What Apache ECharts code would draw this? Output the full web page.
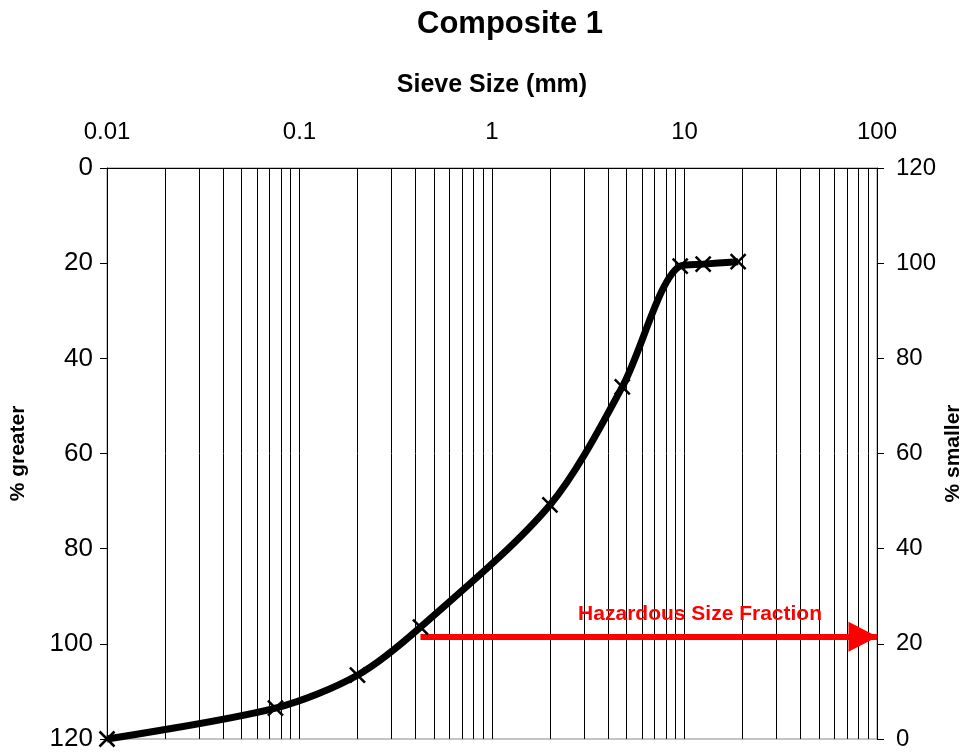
<!DOCTYPE html>
<html>
<head>
<meta charset="utf-8">
<script src="https://cdn.jsdelivr.net/npm/echarts@6/dist/echarts.min.js"></script>
<style>
html,body{margin:0;padding:0;background:#fff;}
#chart{width:962px;height:754px;}
</style>
</head>
<body>
<div id="chart"></div>
<script>
// Data
const sieveSize = [0.01, 0.075, 0.2, 0.425, 2, 4.75, 9.5, 12.5, 19];
const percentGreater = [120, 113.5, 106.6, 96.5, 70.8, 46.0, 20.6, 20.2, 19.7];
const minorGridSizes = [0.02,0.03,0.04,0.05,0.06,0.07,0.08,0.09,
                        0.2,0.3,0.4,0.5,0.6,0.7,0.8,0.9,
                        2,3,4,5,6,7,8,9,
                        20,30,40,50,60,70,80,90];
const hazardStartSize = 0.425;
const hazardEndSize = 100;
const hazardLevel = 98.5;
const hazardLabel = 'Hazardous Size Fraction';
const titleText = 'Composite 1';
const xName = 'Sieve Size (mm)';
const leftName = '% greater';
const rightName = '% smaller';

const FONT = "'Liberation Sans', Arial, sans-serif";
const chart = echarts.init(document.getElementById('chart'), null, {renderer: 'canvas'});

const option = {
  animation: false,
  backgroundColor: '#fff',
  title: {
    text: titleText,
    left: 412,
    top: 4,
    textStyle: {fontFamily: FONT, fontSize: 31, fontWeight: 'bold', color: '#000'}
  },
  grid: {
    left: 107, right: 85, top: 168, bottom: 15,
    containLabel: false,
    outerBoundsMode: 'none',
    show: true, borderColor: '#888', borderWidth: 1, backgroundColor: 'transparent'
  },
  xAxis: {
    type: 'log',
    logBase: 10,
    min: 0.01,
    max: 100,
    position: 'top',
    name: xName,
    nameLocation: 'middle',
    nameGap: 70,
    nameMoveOverlap: false,
    nameTextStyle: {fontFamily: FONT, fontSize: 25, fontWeight: 'bold', color: '#000'},
    axisLine: {show: true, lineStyle: {color: '#000', width: 1}},
    axisTick: {show: false},
    axisLabel: {
      fontFamily: FONT, fontSize: 24, color: '#000', margin: 24,
      formatter: function (v) { return String(+v.toPrecision(6)); }
    },
    splitLine: {show: true, lineStyle: {color: '#000', width: 1}}
  },
  yAxis: [
    {
      type: 'value',
      min: 0, max: 120, interval: 20,
      inverse: true,
      position: 'left',
      name: leftName,
      nameLocation: 'middle',
      nameGap: 78,
      nameMoveOverlap: false,
      nameTextStyle: {fontFamily: FONT, fontSize: 21, fontWeight: 'bold', color: '#000'},
      axisLine: {show: true, lineStyle: {color: '#000', width: 1}},
      axisTick: {show: true, length: 7, lineStyle: {color: '#000'}},
      axisLabel: {fontFamily: FONT, fontSize: 26, color: '#000', margin: 14},
      splitLine: {show: false}
    },
    {
      type: 'value',
      min: 0, max: 120, interval: 20,
      position: 'right',
      name: rightName,
      nameLocation: 'middle',
      nameGap: 66,
      nameMoveOverlap: false,
      nameTextStyle: {fontFamily: FONT, fontSize: 21, fontWeight: 'bold', color: '#000'},
      axisLine: {show: true, lineStyle: {color: '#000', width: 1}},
      axisTick: {show: true, length: 7, lineStyle: {color: '#000'}},
      axisLabel: {fontFamily: FONT, fontSize: 24, color: '#000', margin: 19},
      splitLine: {show: false}
    }
  ],
  series: [
    {
      type: 'line',
      name: 'grid',
      data: [],
      silent: true,
      markLine: {
        silent: true,
        symbol: 'none',
        label: {show: false},
        lineStyle: {color: '#000', width: 1, type: 'solid'},
        emphasis: {disabled: true},
        data: minorGridSizes.map(v => ({xAxis: v}))
      }
    },
    {
      type: 'line',
      name: 'Composite 1',
      yAxisIndex: 0,
      data: sieveSize.map((s, i) => [s, percentGreater[i]]),
      smooth: 0.3,
      clip: false,
      lineStyle: {color: '#000', width: 7},
      symbol: 'path://M0,0L10,10M10,0L0,10',
      symbolSize: 15,
      itemStyle: {color: '#000', borderColor: '#000', borderWidth: 2.5},
      z: 5
    },
    {
      type: 'line',
      name: 'hazard',
      data: [],
      silent: true,
      markLine: {
        silent: true,
        symbol: ['none', 'triangle'],
        symbolSize: [30, 29],
        symbolOffset: [0, [0, 14]],
        lineStyle: {color: '#ff0000', width: 6, type: 'solid'},
        label: {
          show: true,
          position: 'insideEndTop',
          distance: [55, 12],
          formatter: hazardLabel,
          color: '#ff0000',
          fontFamily: FONT,
          fontSize: 21,
          fontWeight: 'bold'
        },
        emphasis: {disabled: true},
        data: [[{coord: [hazardStartSize, hazardLevel]}, {coord: [hazardEndSize, hazardLevel]}]]
      },
      z: 6
    }
  ]
};
chart.setOption(option);
</script>
</body>
</html>
